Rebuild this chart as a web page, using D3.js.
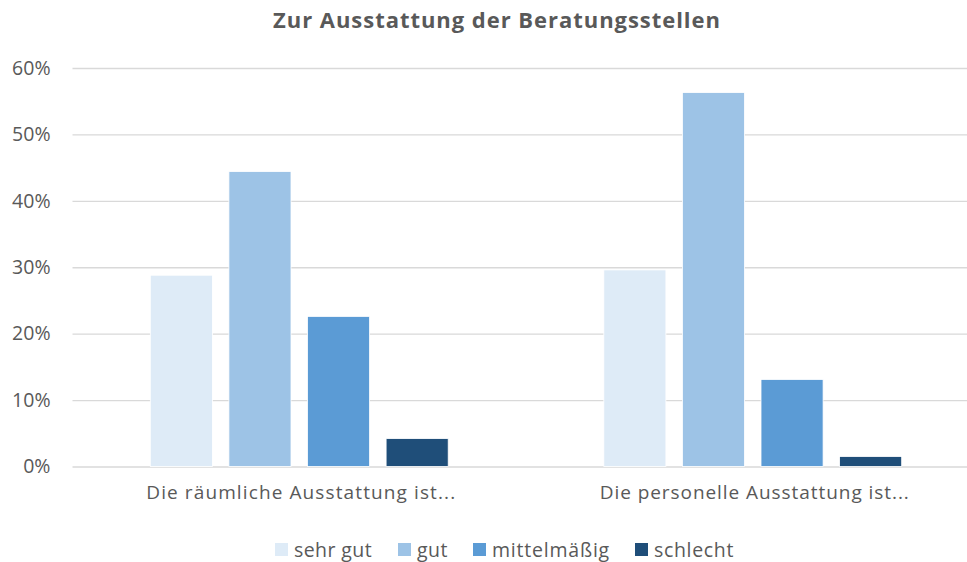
<!DOCTYPE html>
<html>
<head>
<meta charset="utf-8">
<script src="https://cdn.jsdelivr.net/npm/d3@7"></script>
<style>
  body { margin: 0; background: #fff; }
  svg { display: block; font-family: "Open Sans", Lato, sans-serif; }
</style>
</head>
<body>
<svg id="chart" width="967" height="562"></svg>
<script>
const title = "Zur Ausstattung der Beratungsstellen";
const categories = ["Die räumliche Ausstattung ist...", "Die personelle Ausstattung ist..."];
const seriesNames = ["sehr gut", "gut", "mittelmäßig", "schlecht"];
const sehrGut = [28.8, 29.6];
const gut = [44.4, 56.3];
const mittelmaessig = [22.6, 13.1];
const schlecht = [4.2, 1.5];
const yTicks = [0, 10, 20, 30, 40, 50, 60];
const colors = ["#DEEBF7", "#9DC3E6", "#5B9BD5", "#1F4E79"];

const seriesValues = [sehrGut, gut, mittelmaessig, schlecht];
const data = categories.map((c, i) => ({
  category: c,
  values: seriesNames.map((s, j) => ({ series: s, value: seriesValues[j][i] }))
}));

const svg = d3.select("#chart");
const W = 967;
const mTop = 68, mBottom = 466.5, mLeft = 72.5, mRight = 979.5;
const FONT = "'Open Sans', Lato, sans-serif";

// adjust letter-spacing so a text reaches the reference's width
function fitTo(sel, targetWidth) {
  sel.each(function() {
    const n = this.textContent.length;
    const w = this.getComputedTextLength();
    const extra = (targetWidth - w) / Math.max(1, n);
    d3.select(this).attr("letter-spacing", extra.toFixed(2));
  });
}

const y = d3.scaleLinear().domain([0, 60]).range([mBottom, mTop]);
const x0 = d3.scaleBand().domain(categories).range([mLeft, mRight]).padding(0);
const x1 = d3.scaleBand().domain(seriesNames).range([0, x0.bandwidth()])
  .paddingInner(0.21).paddingOuter(0.99);
const color = d3.scaleOrdinal().domain(seriesNames).range(colors);

// gridlines
const grid = svg.append("g")
  .attr("transform", `translate(${mLeft},0)`)
  .call(d3.axisLeft(y).tickValues(yTicks).tickSize(-(W - mLeft)).tickFormat(""));
grid.select(".domain").remove();
grid.selectAll(".tick line").attr("stroke", "#D9D9D9").attr("stroke-width", 1.3);

// y labels
const yAxis = svg.append("g")
  .attr("transform", `translate(${mLeft},0)`)
  .call(d3.axisLeft(y).tickValues(yTicks).tickSize(0).tickPadding(22).tickFormat(d => d + "%"));
yAxis.select(".domain").remove();
yAxis.selectAll("text").attr("fill", "#595959").attr("font-size", 19.5)
  .attr("font-family", FONT);

// bars
const groups = svg.append("g").selectAll("g").data(data).join("g")
  .attr("transform", d => `translate(${x0(d.category)},0)`);
groups.selectAll("rect").data(d => d.values).join("rect")
  .attr("x", d => x1(d.series))
  .attr("width", x1.bandwidth())
  .attr("y", d => y(d.value))
  .attr("height", d => y(0) - y(d.value))
  .attr("fill", d => color(d.series))
  .attr("stroke", "#fff")
  .attr("stroke-width", 0.8);

// category axis
const xAxis = svg.append("g")
  .attr("transform", `translate(2,${mBottom})`)
  .call(d3.axisBottom(x0).tickSize(0).tickPadding(19));
xAxis.select(".domain").remove();
const catText = xAxis.selectAll("text").attr("fill", "#595959").attr("font-size", 19)
  .attr("font-family", FONT);
fitTo(catText, 310);

// title
const titleText = svg.append("text")
  .attr("x", 497).attr("y", 28)
  .attr("text-anchor", "middle")
  .attr("font-size", 22).attr("font-weight", "bold").attr("fill", "#595959")
  .text(title);
fitTo(titleText, 448);

// legend
const legendX = [275, 398, 473, 635];
const legendW = [78, 31, 118, 80];
const legend = svg.append("g").selectAll("g").data(seriesNames).join("g")
  .attr("transform", (d, i) => `translate(${legendX[i]},543)`);
legend.append("rect").attr("width", 13).attr("height", 13).attr("fill", d => color(d));
legend.append("text").attr("x", 19).attr("y", 14).attr("font-size", 19.5)
  .attr("fill", "#595959").text(d => d)
  .each(function(d, i) { fitTo(d3.select(this), legendW[i]); });
</script>
</body>
</html>
